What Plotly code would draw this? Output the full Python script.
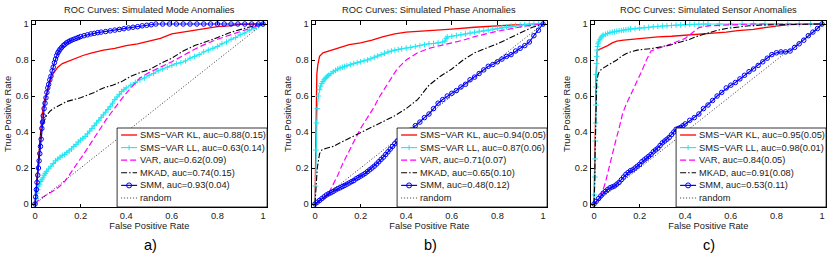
import plotly.graph_objects as go

W, H = 830, 256

# ---------------- text ----------------
panel_titles = ["ROC Curves: Simulated Mode Anomalies",
                "ROC Curves: Simulated Phase Anomalies",
                "ROC Curves: Simulated Sensor Anomalies"]
panel_tags = ["a)", "b)", "c)"]
method_names = ["SMS\u2212VAR KL", "SMS\u2212VAR LL", "VAR", "MKAD", "SMM"]
mode_auc = ["0.88(0.15)", "0.63(0.14)", "0.62(0.09)", "0.74(0.15)", "0.93(0.04)"]
phase_auc = ["0.94(0.05)", "0.87(0.06)", "0.71(0.07)", "0.65(0.10)", "0.48(0.12)"]
sensor_auc = ["0.95(0.05)", "0.98(0.01)", "0.84(0.05)", "0.91(0.08)", "0.53(0.11)"]
tick_vals = [0, 0.2, 0.4, 0.6, 0.8, 1]
tick_text = ["0", "0.2", "0.4", "0.6", "0.8", "1"]
random_fpr = [0, 1]
random_tpr = [0, 1]

# ---------------- data: (FPR, TPR) points ----------------
mode_kl = [(0,0),(0.005,0.08),(0.01,0.17),(0.015,0.26),(0.02,0.35),(0.025,0.42),(0.03,0.48),(0.035,0.53),
           (0.04,0.57),(0.05,0.61),(0.06,0.66),(0.07,0.70),(0.08,0.725),(0.09,0.745),(0.1,0.76),(0.12,0.78),
           (0.15,0.795),(0.18,0.81),(0.21,0.825),(0.25,0.84),(0.3,0.855),(0.35,0.865),(0.4,0.88),(0.45,0.89),
           (0.5,0.905),(0.55,0.92),(0.6,0.945),(0.65,0.955),(0.7,0.965),(0.75,0.975),(0.8,0.985),(0.85,0.99),
           (0.9,0.998),(1.0,1.0)]
mode_ll = [(0,0),(0.004,0.03),(0.008,0.06),(0.012,0.08),(0.016,0.1),(0.02,0.11),(0.025,0.125),(0.03,0.135),
           (0.035,0.145),(0.04,0.16),(0.045,0.17),(0.05,0.18),(0.06,0.195),(0.07,0.21),(0.08,0.225),(0.09,0.24),
           (0.1,0.25),(0.11,0.26),(0.12,0.27),(0.13,0.275),(0.14,0.285),(0.15,0.295),(0.16,0.305),(0.17,0.32),
           (0.18,0.33),(0.19,0.345),(0.2,0.355),(0.21,0.365),(0.22,0.375),(0.23,0.39),(0.24,0.405),(0.25,0.42),
           (0.26,0.435),(0.27,0.45),(0.28,0.465),(0.29,0.48),(0.3,0.495),(0.31,0.51),(0.32,0.525),(0.33,0.54),
           (0.34,0.56),(0.35,0.58),(0.36,0.595),(0.37,0.61),(0.38,0.625),(0.39,0.635),(0.4,0.645),(0.42,0.66),
           (0.44,0.675),(0.46,0.69),(0.48,0.7),(0.5,0.715),(0.52,0.725),(0.54,0.74),(0.56,0.75),(0.58,0.76),
           (0.6,0.77),(0.62,0.78),(0.64,0.785),(0.66,0.795),(0.68,0.81),(0.7,0.82),(0.72,0.83),(0.74,0.845),
           (0.76,0.855),(0.78,0.865),(0.8,0.875),(0.82,0.89),(0.84,0.9),(0.86,0.915),(0.88,0.925),(0.9,0.94),
           (0.92,0.95),(0.94,0.965),(0.96,0.975),(0.98,0.99),(1.0,1.0)]
mode_var = [(0,0),(0.01,0.015),(0.03,0.035),(0.05,0.05),(0.07,0.065),(0.09,0.08),(0.11,0.1),(0.13,0.125),
            (0.15,0.16),(0.17,0.2),(0.19,0.235),(0.21,0.27),(0.23,0.31),(0.25,0.35),(0.27,0.39),(0.29,0.43),
            (0.31,0.465),(0.33,0.5),(0.35,0.535),(0.37,0.565),(0.39,0.6),(0.41,0.63),(0.43,0.66),(0.46,0.7),
            (0.5,0.73),(0.55,0.76),(0.6,0.79),(0.65,0.825),(0.7,0.86),(0.75,0.89),(0.8,0.915),(0.87,0.945),
            (0.94,0.975),(1.0,1.0)]
mode_mkad = [(0,0),(0.005,0.08),(0.01,0.17),(0.015,0.26),(0.02,0.33),(0.025,0.39),(0.03,0.43),(0.04,0.46),
             (0.05,0.49),(0.065,0.515),(0.08,0.53),(0.11,0.55),(0.14,0.57),(0.17,0.58),(0.2,0.59),(0.23,0.605),
             (0.26,0.62),(0.3,0.645),(0.34,0.66),(0.38,0.68),(0.42,0.71),(0.46,0.73),(0.5,0.745),(0.55,0.78),
             (0.6,0.81),(0.65,0.85),(0.7,0.88),(0.77,0.91),(0.85,0.95),(0.93,0.98),(1.0,1.0)]
mode_smm = [(0,0),(0.003,0.04),(0.006,0.08),(0.009,0.12),(0.012,0.16),(0.015,0.2),(0.018,0.24),(0.021,0.28),
            (0.024,0.32),(0.027,0.36),(0.03,0.42),(0.033,0.455),(0.036,0.49),(0.04,0.53),(0.044,0.56),
            (0.048,0.59),(0.052,0.62),(0.056,0.645),(0.06,0.665),(0.065,0.69),(0.07,0.71),(0.075,0.74),
            (0.08,0.76),(0.085,0.785),(0.09,0.805),(0.095,0.825),(0.1,0.84),(0.105,0.85),(0.11,0.86),
            (0.117,0.87),(0.124,0.88),(0.131,0.887),(0.138,0.895),(0.145,0.9),(0.152,0.905),(0.16,0.91),
            (0.17,0.915),(0.18,0.92),(0.19,0.925),(0.2,0.93),(0.215,0.935),(0.23,0.94),(0.245,0.945),
            (0.26,0.948),(0.275,0.952),(0.29,0.955),(0.31,0.958),(0.33,0.962),(0.35,0.966),(0.37,0.97),
            (0.39,0.974),(0.41,0.978),(0.43,0.982),(0.45,0.985),(0.47,0.99),(0.49,0.993),(0.51,0.996),
            (0.53,1.0),(0.56,1.0),(0.59,1.0),(0.62,1.0),(0.65,1.0),(0.68,1.0),(0.71,1.0),(0.74,1.0),(0.77,1.0),
            (0.8,1.0),(0.83,1.0),(0.86,1.0),(0.89,1.0),(0.92,1.0),(0.95,1.0),(0.98,1.0),(1.0,1.0)]

phase_kl = [(0,0),(0.003,0.3),(0.005,0.6),(0.008,0.72),(0.012,0.77),(0.02,0.82),(0.035,0.84),(0.06,0.85),
            (0.09,0.86),(0.12,0.875),(0.15,0.885),(0.2,0.895),(0.25,0.91),(0.3,0.93),(0.35,0.945),(0.4,0.955),
            (0.5,0.962),(0.6,0.972),(0.7,0.982),(0.8,0.99),(0.9,0.997),(1.0,1.0)]
phase_ll = [(0,0),(0.002,0.1),(0.004,0.3),(0.007,0.45),(0.01,0.53),(0.015,0.6),(0.02,0.635),(0.025,0.655),
            (0.03,0.67),(0.035,0.68),(0.04,0.69),(0.045,0.698),(0.05,0.705),(0.055,0.71),(0.06,0.715),
            (0.07,0.725),(0.08,0.735),(0.09,0.742),(0.1,0.75),(0.11,0.755),(0.12,0.76),(0.13,0.764),
            (0.14,0.768),(0.155,0.774),(0.17,0.78),(0.185,0.785),(0.2,0.79),(0.215,0.795),(0.23,0.8),
            (0.245,0.807),(0.26,0.815),(0.275,0.822),(0.29,0.83),(0.305,0.838),(0.32,0.845),(0.335,0.85),
            (0.35,0.855),(0.365,0.858),(0.38,0.862),(0.4,0.866),(0.42,0.87),(0.44,0.875),(0.46,0.88),
            (0.48,0.885),(0.5,0.89),(0.52,0.892),(0.54,0.895),(0.56,0.9),(0.57,0.905),(0.575,0.92),
            (0.58,0.928),(0.6,0.932),(0.62,0.936),(0.64,0.94),(0.66,0.945),(0.68,0.95),(0.7,0.955),
            (0.72,0.96),(0.74,0.963),(0.76,0.967),(0.78,0.972),(0.8,0.976),(0.82,0.98),(0.84,0.984),
            (0.86,0.988),(0.88,0.991),(0.9,0.994),(0.92,0.996),(0.94,0.998),(0.96,0.999),(0.98,1.0),(1.0,1.0)]
phase_var = [(0,0),(0.02,0.015),(0.04,0.03),(0.06,0.06),(0.08,0.11),(0.1,0.16),(0.12,0.22),(0.14,0.27),
             (0.16,0.32),(0.18,0.37),(0.2,0.42),(0.22,0.46),(0.24,0.5),(0.26,0.54),(0.28,0.59),(0.3,0.63),
             (0.33,0.69),(0.36,0.75),(0.4,0.8),(0.45,0.84),(0.5,0.865),(0.55,0.88),(0.6,0.895),(0.65,0.91),
             (0.7,0.93),(0.75,0.945),(0.8,0.96),(0.87,0.976),(0.93,0.99),(1.0,1.0)]
phase_mkad = [(0,0),(0.005,0.1),(0.01,0.2),(0.02,0.28),(0.03,0.3),(0.05,0.31),(0.08,0.32),(0.11,0.34),
              (0.15,0.365),(0.2,0.4),(0.25,0.43),(0.3,0.46),(0.35,0.49),(0.4,0.53),(0.45,0.58),(0.5,0.66),
              (0.55,0.71),(0.6,0.75),(0.65,0.8),(0.7,0.84),(0.75,0.865),(0.8,0.89),(0.85,0.92),(0.9,0.95),
              (0.95,0.98),(1.0,1.0)]
phase_smm = [(0,0),(0.01,0.01),(0.02,0.02),(0.03,0.03),(0.04,0.04),(0.05,0.05),(0.06,0.057),(0.07,0.063),
             (0.08,0.07),(0.09,0.078),(0.1,0.085),(0.11,0.09),(0.12,0.097),(0.13,0.103),(0.14,0.11),
             (0.15,0.117),(0.16,0.124),(0.17,0.13),(0.18,0.14),(0.19,0.147),(0.2,0.155),(0.21,0.162),
             (0.22,0.17),(0.23,0.18),(0.24,0.19),(0.25,0.2),(0.26,0.21),(0.27,0.222),(0.28,0.235),
             (0.29,0.248),(0.3,0.26),(0.31,0.275),(0.32,0.29),(0.33,0.305),(0.34,0.32),(0.35,0.335),
             (0.36,0.35),(0.37,0.36),(0.38,0.37),(0.39,0.38),(0.4,0.39),(0.42,0.41),(0.44,0.435),(0.46,0.455),
             (0.48,0.48),(0.5,0.5),(0.52,0.53),(0.54,0.56),(0.56,0.58),(0.58,0.6),(0.6,0.615),(0.62,0.63),
             (0.64,0.65),(0.66,0.665),(0.68,0.69),(0.7,0.705),(0.72,0.725),(0.74,0.745),(0.76,0.765),
             (0.78,0.775),(0.8,0.79),(0.82,0.805),(0.84,0.82),(0.86,0.83),(0.88,0.85),(0.9,0.865),
             (0.92,0.88),(0.94,0.9),(0.96,0.935),(0.98,0.965),(1.0,1.0)]

sensor_kl = [(0,0),(0.004,0.2),(0.007,0.5),(0.009,0.7),(0.011,0.8),(0.013,0.84),(0.016,0.855),(0.025,0.86),
             (0.04,0.865),(0.06,0.88),(0.08,0.895),(0.1,0.905),(0.13,0.91),(0.17,0.915),(0.22,0.92),
             (0.28,0.928),(0.34,0.932),(0.4,0.937),(0.46,0.942),(0.52,0.947),(0.58,0.955),(0.63,0.963),
             (0.7,0.97),(0.75,0.98),(0.8,0.99),(0.85,0.996),(0.9,0.998),(1.0,1.0)]
sensor_ll = [(0,0),(0.002,0.05),(0.004,0.15),(0.005,0.25),(0.006,0.35),(0.007,0.45),(0.008,0.55),
             (0.009,0.65),(0.01,0.72),(0.011,0.78),(0.012,0.82),(0.014,0.855),(0.016,0.875),(0.018,0.89),
             (0.02,0.9),(0.025,0.912),(0.03,0.922),(0.035,0.932),(0.04,0.938),(0.05,0.943),(0.06,0.948),
             (0.07,0.952),(0.08,0.955),(0.09,0.957),(0.1,0.96),(0.11,0.962),(0.12,0.964),(0.13,0.966),
             (0.14,0.968),(0.15,0.97),(0.16,0.972),(0.18,0.974),(0.2,0.977),(0.22,0.979),(0.24,0.982),
             (0.26,0.985),(0.28,0.987),(0.3,0.989),(0.32,0.99),(0.34,0.992),(0.36,0.994),(0.38,0.995),
             (0.4,0.997),(0.42,0.998),(0.44,0.998),(0.46,0.999),(0.48,1.0),(0.5,1.0),(0.55,1.0),(0.6,1.0),
             (0.65,1.0),(0.7,1.0),(0.75,1.0),(0.8,1.0),(0.85,1.0),(0.9,1.0),(0.95,1.0),(1.0,1.0)]
sensor_var = [(0,0),(0.01,0.01),(0.02,0.03),(0.035,0.06),(0.05,0.12),(0.065,0.2),(0.08,0.27),(0.095,0.35),
              (0.11,0.42),(0.125,0.5),(0.14,0.55),(0.155,0.59),(0.17,0.63),(0.19,0.69),(0.21,0.74),
              (0.23,0.8),(0.25,0.85),(0.28,0.865),(0.32,0.88),(0.36,0.9),(0.4,0.92),(0.43,0.95),(0.46,0.98),
              (0.5,0.99),(0.6,0.995),(0.7,1.0),(1.0,1.0)]
sensor_mkad = [(0,0),(0.003,0.1),(0.005,0.3),(0.007,0.5),(0.009,0.62),(0.012,0.68),(0.018,0.72),(0.025,0.74),
               (0.04,0.755),(0.06,0.77),(0.08,0.785),(0.1,0.8),(0.12,0.82),(0.14,0.835),(0.16,0.845),
               (0.19,0.855),(0.22,0.86),(0.25,0.863),(0.3,0.875),(0.34,0.885),(0.38,0.9),(0.42,0.915),
               (0.46,0.935),(0.5,0.95),(0.54,0.965),(0.58,0.975),(0.62,0.982),(0.68,0.99),(0.75,0.995),
               (0.85,0.997),(1.0,1.0)]
sensor_smm = [(0,0),(0.01,0.015),(0.02,0.03),(0.03,0.045),(0.04,0.06),(0.05,0.07),(0.06,0.08),(0.07,0.09),
              (0.08,0.095),(0.09,0.1),(0.1,0.11),(0.11,0.12),(0.12,0.135),(0.13,0.15),(0.14,0.165),
              (0.15,0.175),(0.16,0.185),(0.17,0.19),(0.18,0.2),(0.19,0.21),(0.2,0.22),(0.21,0.235),
              (0.22,0.245),(0.23,0.255),(0.24,0.265),(0.25,0.275),(0.26,0.29),(0.27,0.3),(0.28,0.31),
              (0.29,0.325),(0.3,0.34),(0.31,0.35),(0.32,0.36),(0.33,0.37),(0.34,0.385),(0.35,0.4),
              (0.36,0.415),(0.37,0.42),(0.38,0.425),(0.39,0.435),(0.4,0.445),(0.42,0.465),(0.44,0.48),
              (0.46,0.5),(0.48,0.53),(0.5,0.55),(0.52,0.575),(0.54,0.6),(0.56,0.62),(0.58,0.645),(0.6,0.66),
              (0.62,0.675),(0.64,0.695),(0.66,0.715),(0.68,0.735),(0.7,0.75),(0.72,0.77),(0.74,0.79),
              (0.76,0.81),(0.78,0.83),(0.8,0.84),(0.82,0.845),(0.84,0.845),(0.86,0.85),(0.88,0.87),
              (0.9,0.89),(0.92,0.91),(0.94,0.935),(0.96,0.955),(0.98,0.975),(1.0,1.0)]

panels = [
    ([mode_kl, mode_ll, mode_var, mode_mkad, mode_smm], mode_auc),
    ([phase_kl, phase_ll, phase_var, phase_mkad, phase_smm], phase_auc),
    ([sensor_kl, sensor_ll, sensor_var, sensor_mkad, sensor_smm], sensor_auc),
]

# ---------------- styles ----------------
CYAN = "#22e6f2"
styles = [
    dict(color="#ff0000", width=1.3, dash="solid", symbol=None, msize=0),
    dict(color=CYAN, width=1.1, dash="solid", symbol="cross-thin-open", msize=4),
    dict(color="#ff00ff", width=1.2, dash="6px,3px", symbol=None, msize=0),
    dict(color="#000000", width=1.1, dash="6px,2px,1.5px,2px", symbol=None, msize=0),
    dict(color="#0000ff", width=1.2, dash="solid", symbol="circle-open", msize=4.5),
]
random_style = dict(color="#000000", width=0.8, dash="1px,2px")

FONT = "Liberation Sans, Arial, Helvetica, sans-serif"
TXT = "#1a1a1a"
FS = 9.3

# layout geometry (pixels)
UX, UY = 228.0, 180.0           # pixels per unit
X0PX = [35, 315, 594]           # pixel of FPR=0 in each panel
XR = [-0.015, 1.018]
YR = [-3 / UY, 1 + 3 / UY]
BOX_TOP, BOX_BOT = 21, 207

fig = go.Figure()
shapes, annotations = [], []

for p, (series, aucs) in enumerate(panels):
    xa = "x" if p == 0 else f"x{p+1}"
    ya = "y" if p == 0 else f"y{p+1}"
    for s, pts, st in zip(range(5), series, styles):
        fx = [a for a, b in pts]
        ty = [b for a, b in pts]
        mode = "lines+markers" if st["symbol"] else "lines"
        kw = dict(x=fx, y=ty, mode=mode, xaxis=xa, yaxis=ya, showlegend=False,
                  name=method_names[s], line=dict(color=st["color"], width=st["width"], dash=st["dash"]))
        if st["symbol"]:
            kw["marker"] = dict(symbol=st["symbol"], size=st["msize"], color=st["color"],
                                line=dict(color=st["color"], width=1))
        fig.add_trace(go.Scatter(**kw))
    fig.add_trace(go.Scatter(x=random_fpr, y=random_tpr, mode="lines", xaxis=xa, yaxis=ya,
                             showlegend=False, name="random",
                             line=dict(color=random_style["color"], width=random_style["width"],
                                       dash=random_style["dash"])))

    L = X0PX[p] + XR[0] * UX
    R = X0PX[p] + XR[1] * UX
    axis_common = dict(showgrid=False, zeroline=False, showline=True, linecolor="#000000", linewidth=1,
                       mirror="ticks", ticks="inside", ticklen=3.5, tickcolor="#000000", tickwidth=1,
                       tickvals=tick_vals, ticktext=tick_text, automargin=False,
                       tickfont=dict(family=FONT, size=FS, color=TXT))
    fig.layout[("xaxis" if p == 0 else f"xaxis{p+1}")] = dict(
        axis_common, domain=[L / W, R / W], range=XR, anchor=ya,
        title=dict(text="False Positive Rate", font=dict(family=FONT, size=FS, color=TXT), standoff=1))
    fig.layout[("yaxis" if p == 0 else f"yaxis{p+1}")] = dict(
        axis_common, domain=[1 - BOX_BOT / H, 1 - BOX_TOP / H], range=YR, anchor=xa,
        title=dict(text="True Positive Rate", font=dict(family=FONT, size=FS, color=TXT), standoff=2))

    # panel title and tag
    annotations.append(dict(text=panel_titles[p], xref="paper", yref="paper", x=(L + R) / 2 / W,
                            y=1 - 10 / H, xanchor="center", yanchor="middle", showarrow=False,
                            font=dict(family=FONT, size=FS, color=TXT)))
    annotations.append(dict(text=panel_tags[p], xref="paper", yref="paper", x=(L + R) / 2 / W + 1 / W,
                            y=1 - 245 / H, xanchor="center", yanchor="middle", showarrow=False,
                            font=dict(family=FONT, size=14.5, color="#000000")))

    # legend box (drawn in pixel space)
    lx0, lx1 = R - 150, R
    ly0, ly1 = BOX_BOT - 79, BOX_BOT
    shapes.append(dict(type="rect", xref="paper", yref="paper", x0=lx0 / W, x1=lx1 / W,
                       y0=1 - ly1 / H, y1=1 - ly0 / H, fillcolor="white",
                       line=dict(color="#000000", width=0.8), layer="above"))
    labels = [f"{n}, auc={a}" for n, a in zip(method_names, aucs)] + ["random"]
    leg_styles = styles + [dict(random_style, symbol=None)]
    for k in range(6):
        yc = ly0 + 7 + 12.6 * k
        st = leg_styles[k]
        shapes.append(dict(type="line", xref="paper", yref="paper", x0=(lx0 + 4) / W, x1=(lx0 + 20) / W,
                           y0=1 - yc / H, y1=1 - yc / H, layer="above",
                           line=dict(color=st["color"], width=st["width"], dash=st["dash"])))
        if st["symbol"] == "cross-thin-open":
            shapes.append(dict(type="line", xref="paper", yref="paper", x0=(lx0 + 12) / W, x1=(lx0 + 12) / W,
                               y0=1 - (yc - 2.5) / H, y1=1 - (yc + 2.5) / H, layer="above",
                               line=dict(color=st["color"], width=1)))
        elif st["symbol"] == "circle-open":
            shapes.append(dict(type="circle", xref="paper", yref="paper", x0=(lx0 + 9.5) / W,
                               x1=(lx0 + 14.5) / W, y0=1 - (yc + 2.5) / H, y1=1 - (yc - 2.5) / H,
                               layer="above", line=dict(color=st["color"], width=1)))
        annotations.append(dict(text=labels[k], xref="paper", yref="paper", x=(lx0 + 21) / W,
                                y=1 - yc / H, xanchor="left", yanchor="middle", showarrow=False,
                                font=dict(family=FONT, size=FS, color=TXT)))

fig.update_layout(width=W, height=H, margin=dict(l=0, r=0, t=0, b=0), autosize=False,
                  paper_bgcolor="white", plot_bgcolor="white", shapes=shapes, annotations=annotations,
                  font=dict(family=FONT, size=FS, color=TXT), showlegend=False)

fig.write_html("out.html", config={"displayModeBar": False},
               post_script="document.body.style.margin='0px';document.body.style.padding='0px';")
